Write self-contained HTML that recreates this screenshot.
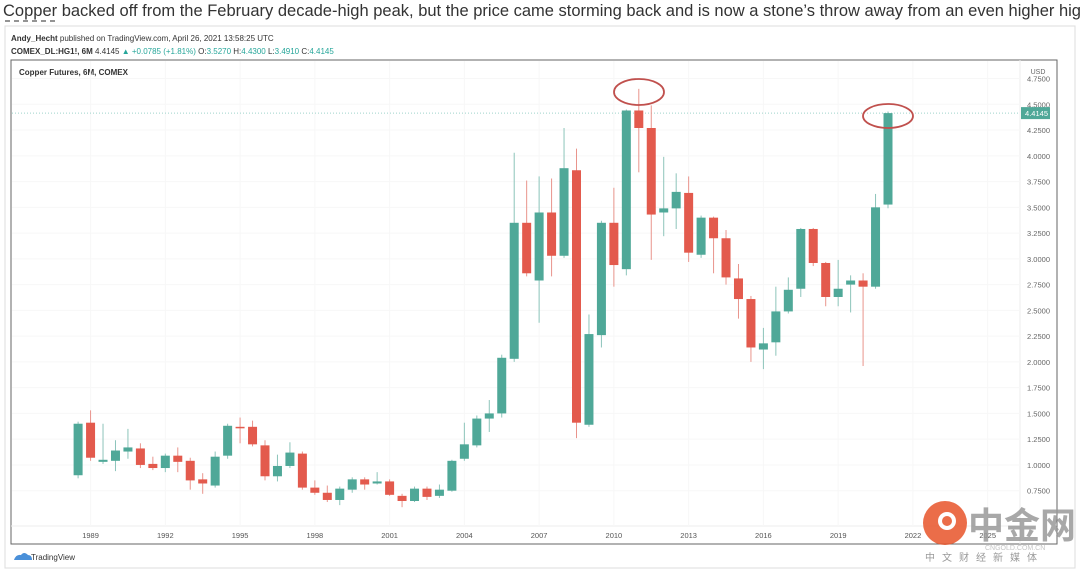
<!DOCTYPE html>
<html><head><meta charset="utf-8"><style>
body{margin:0;background:#fff;width:1080px;height:574px;overflow:hidden;font-family:"Liberation Sans",sans-serif}
</style></head><body>
<svg id="c" width="1080" height="574" xmlns="http://www.w3.org/2000/svg" font-family="Liberation Sans, sans-serif">
<text x="3" y="16" font-size="16.5" fill="#333">Copper backed off from the February decade-high peak, but the price came storming back and is now a stone’s throw away from an even higher high</text>
<line x1="5" y1="21" x2="55" y2="21" stroke="#555" stroke-dasharray="5,4" stroke-width="1.2"/>
<rect x="5" y="26" width="1070" height="542" fill="none" stroke="#ddd"/>
<text x="11" y="41" font-size="8" fill="#333"><tspan font-weight="bold">Andy_Hecht</tspan> published on TradingView.com, April 26, 2021 13:58:25 UTC</text>
<text x="11" y="54" font-size="8" fill="#333"><tspan font-weight="bold">COMEX_DL:HG1!, 6M</tspan> 4.4145 <tspan fill="#26a69a">▲ +0.0785 (+1.81%)</tspan> O:<tspan fill="#26a69a">3.5270</tspan> H:<tspan fill="#26a69a">4.4300</tspan> L:<tspan fill="#26a69a">3.4910</tspan> C:<tspan fill="#26a69a">4.4145</tspan></text>
<rect x="11" y="60" width="1046" height="484" fill="none" stroke="#666"/>
<text x="19" y="75" font-size="8" font-weight="bold" fill="#333">Copper Futures, 6M, COMEX</text>
<line x1="11" y1="526" x2="1020" y2="526" stroke="#eee"/>
<line x1="1020" y1="60" x2="1020" y2="544" stroke="#eee"/>
<text x="1038" y="74" font-size="7" fill="#666" text-anchor="middle">USD</text>
<g id="grid"></g><g id="candles"></g><g id="ticks"></g>
<ellipse cx="639" cy="92" rx="25" ry="13" fill="none" stroke="#c0504d" stroke-width="1.8"/>
<ellipse cx="888" cy="116" rx="25" ry="12" fill="none" stroke="#c0504d" stroke-width="1.8"/>
<g><path d="M14 560 q2-6 7-5 q3-4 7 0 q4 0 4 5 z" fill="#4a90d9"/><text x="31" y="560" font-size="8" fill="#333">TradingView</text></g>
<g opacity="0.85"><circle cx="945" cy="523" r="22" fill="#e8542a"/><circle cx="947" cy="521" r="9" fill="#fff"/><circle cx="947" cy="521" r="5" fill="#e8542a"/><text x="968" y="538" font-size="36" fill="#999" font-family="Noto Sans CJK SC, sans-serif" font-weight="bold">中金网</text><text x="985" y="550" font-size="7" fill="#bbb">CNGOLD.COM.CN</text><text x="925" y="561" font-size="10" fill="#888" font-family="Noto Sans CJK SC, sans-serif" letter-spacing="7">中文财经新媒体</text></g>
</svg>
<script>
const opens=[0.90,1.41,1.03,1.04,1.13,1.16,1.01,0.97,1.09,1.04,0.86,0.80,1.09,1.37,1.37,1.19,0.89,0.99,1.11,0.78,0.73,0.66,0.76,0.86,0.82,0.84,0.70,0.65,0.77,0.70,0.75,1.06,1.19,1.45,1.50,2.03,3.35,2.79,3.45,3.03,3.86,1.39,2.26,3.35,2.90,4.44,4.27,3.45,3.49,3.64,3.04,3.40,3.20,2.81,2.61,2.12,2.19,2.49,2.71,3.29,2.96,2.63,2.75,2.79,2.73,3.527];
const highs=[1.42,1.53,1.40,1.24,1.35,1.21,1.08,1.11,1.17,1.07,0.92,1.13,1.40,1.46,1.43,1.24,1.10,1.22,1.13,0.85,0.80,0.79,0.88,0.88,0.93,0.86,0.72,0.79,0.79,0.81,1.05,1.41,1.48,1.63,2.07,4.03,3.76,3.80,3.78,4.27,4.07,2.46,3.37,3.69,4.45,4.65,4.49,3.99,3.83,3.80,3.42,3.41,3.28,2.95,2.64,2.33,2.73,2.82,3.30,3.30,2.97,2.99,2.84,2.86,3.63,4.43];
const lows=[0.87,1.04,1.01,0.94,1.06,0.97,0.95,0.93,0.93,0.76,0.72,0.78,1.06,1.21,1.18,0.85,0.84,0.97,0.76,0.71,0.64,0.61,0.73,0.76,0.81,0.70,0.59,0.64,0.66,0.68,0.74,1.04,1.17,1.32,1.46,2.00,2.83,2.38,2.83,3.01,1.26,1.37,2.14,2.73,2.84,3.84,2.99,3.22,3.29,2.97,3.01,2.86,2.75,2.42,2.00,1.93,2.06,2.47,2.63,2.93,2.54,2.54,2.48,1.96,2.71,3.491];
const closes=[1.40,1.07,1.05,1.14,1.17,1.00,0.97,1.09,1.03,0.85,0.82,1.08,1.38,1.36,1.20,0.89,0.99,1.12,0.78,0.73,0.66,0.77,0.86,0.81,0.84,0.71,0.65,0.77,0.69,0.76,1.04,1.20,1.45,1.50,2.04,3.35,2.86,3.45,3.03,3.88,1.41,2.27,3.35,2.94,4.44,4.27,3.43,3.49,3.65,3.06,3.40,3.20,2.82,2.61,2.14,2.18,2.49,2.70,3.29,2.96,2.63,2.71,2.79,2.73,3.50,4.4145];
const yTicks=[0.75,1.0,1.25,1.5,1.75,2.0,2.25,2.5,2.75,3.0,3.25,3.5,3.75,4.0,4.25,4.5,4.75];
const xTickYears=[1989,1992,1995,1998,2001,2004,2007,2010,2013,2016,2019,2022,2025];
const firstPeriod=1988.5, lastPrice=4.4145;
const NS='http://www.w3.org/2000/svg';
const y=v=>104.3+(4.5-v)*103.04;
const x=t=>888+(t-2021)*24.92;
function mk(tag,attrs,parent){const e=document.createElementNS(NS,tag);for(const k in attrs)e.setAttribute(k,attrs[k]);parent.appendChild(e);return e;}
const grid=document.getElementById('grid'),cg=document.getElementById('candles'),tg=document.getElementById('ticks');
yTicks.forEach(v=>{
 const l=mk('line',{x1:12,x2:1020,y1:y(v),y2:y(v),stroke:'#f7f7f7'},grid);
 
 
 const t=mk('text',{x:1050,y:y(v)+3,'font-size':7.5,fill:'#666','text-anchor':'end'},tg);
 t.textContent=v.toFixed(4);
 
 
});
xTickYears.forEach(yr=>{
 const l=mk('line',{x1:x(yr),x2:x(yr),y1:61,y2:526,stroke:'#f7f7f7'},grid);
 
 
 const t=mk('text',{x:x(yr),y:538,'font-size':7.5,fill:'#555','text-anchor':'middle'},tg);
 t.textContent=yr;
 
 
});
const pl=mk('line',{x1:12,x2:1020,y1:y(lastPrice),y2:y(lastPrice),stroke:'#9fd3cb','stroke-dasharray':'1,2'},grid);


opens.forEach((o,i)=>{
 const c=closes[i],up=c>=o,col=up?'#4fa898':'#e35a4d',cx=x(firstPeriod+i*0.5);
 const g=mk('g',{},cg);
 
 
 mk('line',{x1:cx,x2:cx,y1:y(highs[i]),y2:y(lows[i]),stroke:up?'#8cc4ba':'#e9948c','stroke-width':1},g);
 const top=y(Math.max(o,c)),bot=y(Math.min(o,c));
 mk('rect',{x:cx-4.5,y:top,width:9,height:Math.max(1.5,bot-top),fill:col},g);
});
const pb=mk('rect',{x:1021,y:y(lastPrice)-6,width:29,height:12,fill:'#4fa898'},tg);


const pt=mk('text',{x:1048,y:y(lastPrice)+3,'font-size':7.5,fill:'#fff','text-anchor':'end'},tg);
pt.textContent=lastPrice.toFixed(4);


</script>
</body></html>
